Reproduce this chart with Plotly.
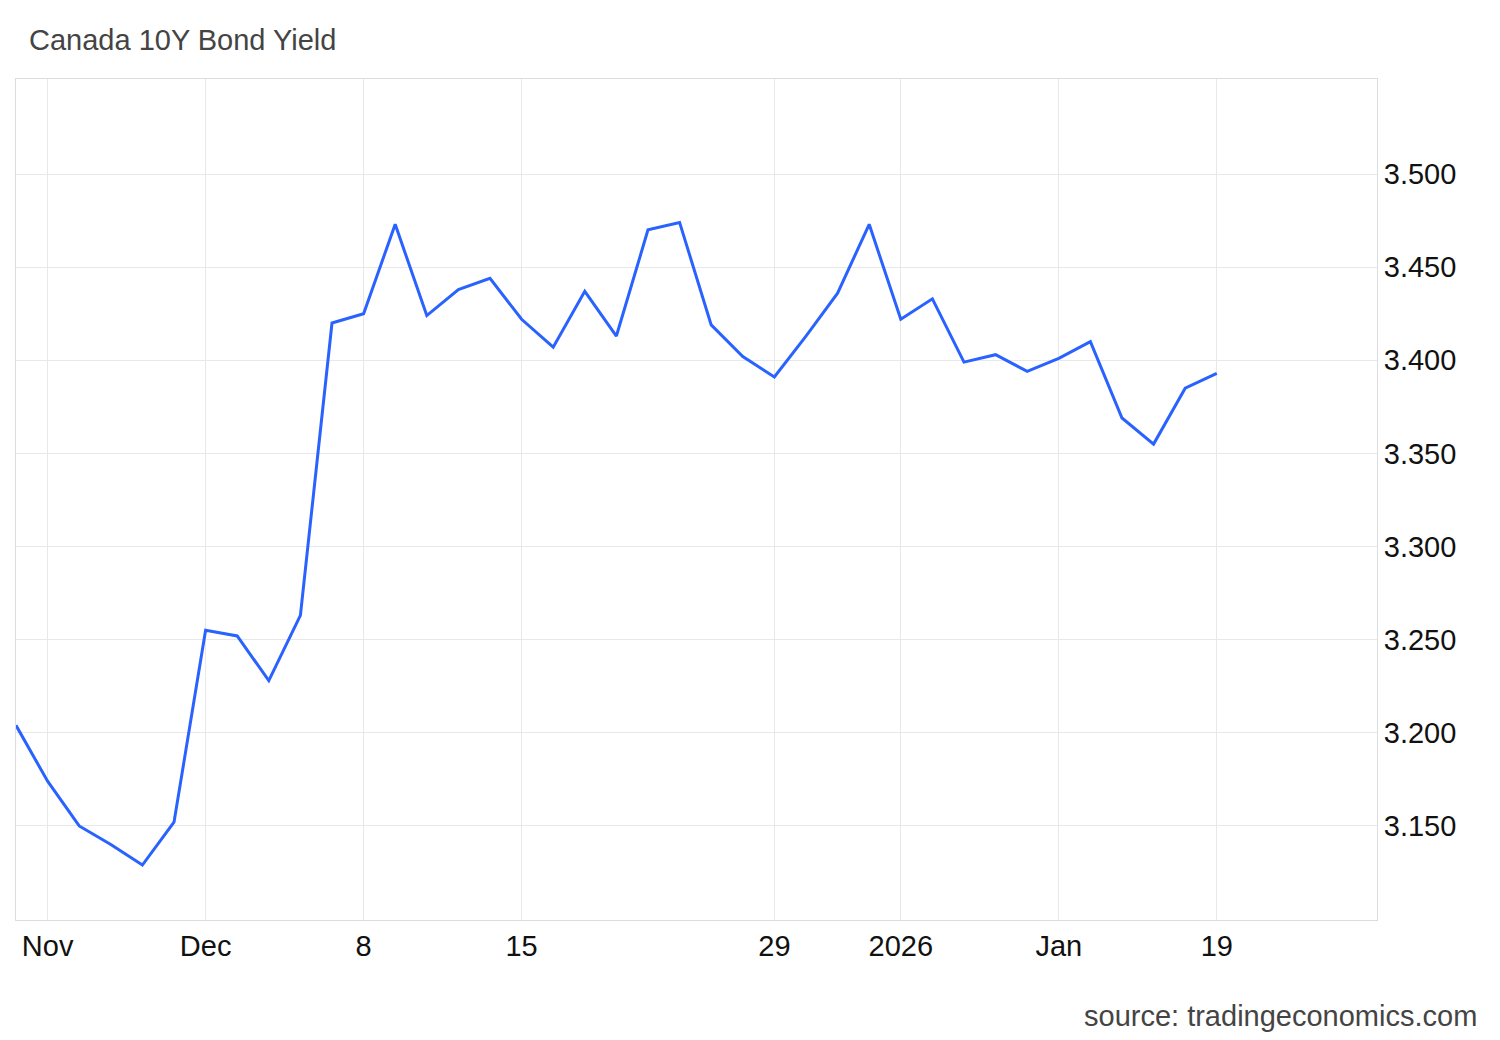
import plotly.graph_objects as go

# one point per trading day
yields = [3.204, 3.174, 3.150, 3.140, 3.129, 3.152, 3.255, 3.252, 3.228, 3.263,
          3.420, 3.425, 3.473, 3.424, 3.438, 3.444, 3.422, 3.407, 3.437, 3.413,
          3.470, 3.474, 3.419, 3.402, 3.391, 3.413, 3.436, 3.473, 3.422, 3.433,
          3.399, 3.403, 3.394, 3.401, 3.410, 3.369, 3.355, 3.385, 3.393]
tick_pos = [1, 6, 11, 16, 24, 28, 33, 38]
tick_labels = ["Nov", "Dec", "8", "15", "29", "2026", "Jan", "19"]
y_ticks = [3.15, 3.2, 3.25, 3.3, 3.35, 3.4, 3.45, 3.5]

fig = go.Figure()
fig.add_trace(go.Scatter(x=list(range(len(yields))), y=yields, mode="lines",
                         line=dict(color="#2962ff", width=3), hoverinfo="y"))

fig.update_layout(
    width=1500, height=1040, plot_bgcolor="white", paper_bgcolor="white",
    margin=dict(l=8, r=131, t=71, b=128), showlegend=False,
    font=dict(family="Liberation Sans, Arial", size=29, color="#111"),
    title=dict(text="Canada 10Y Bond Yield", x=0.014, y=0.969, xanchor="left",
               yanchor="middle", font=dict(size=29, color="#444")),
)
fig.update_xaxes(range=[0, 43.07], tickvals=tick_pos, ticktext=tick_labels,
                 showgrid=True, gridcolor="#e8e8e8", zeroline=False,
                 showline=True, linecolor="#ddd", mirror=True, ticks="")
fig.update_yaxes(range=[3.0995, 3.551], side="right", tickvals=y_ticks,
                 ticktext=["%.3f" % v for v in y_ticks],
                 showgrid=True, gridcolor="#e8e8e8", zeroline=False,
                 showline=True, linecolor="#ddd", mirror=True, ticks="")
fig.add_annotation(text="source: tradingeconomics.com", xref="paper", yref="paper",
                   x=1.075, y=-0.114, xanchor="right", yanchor="middle", showarrow=False,
                   font=dict(size=29, color="#444"))
fig.write_html("out.html")
